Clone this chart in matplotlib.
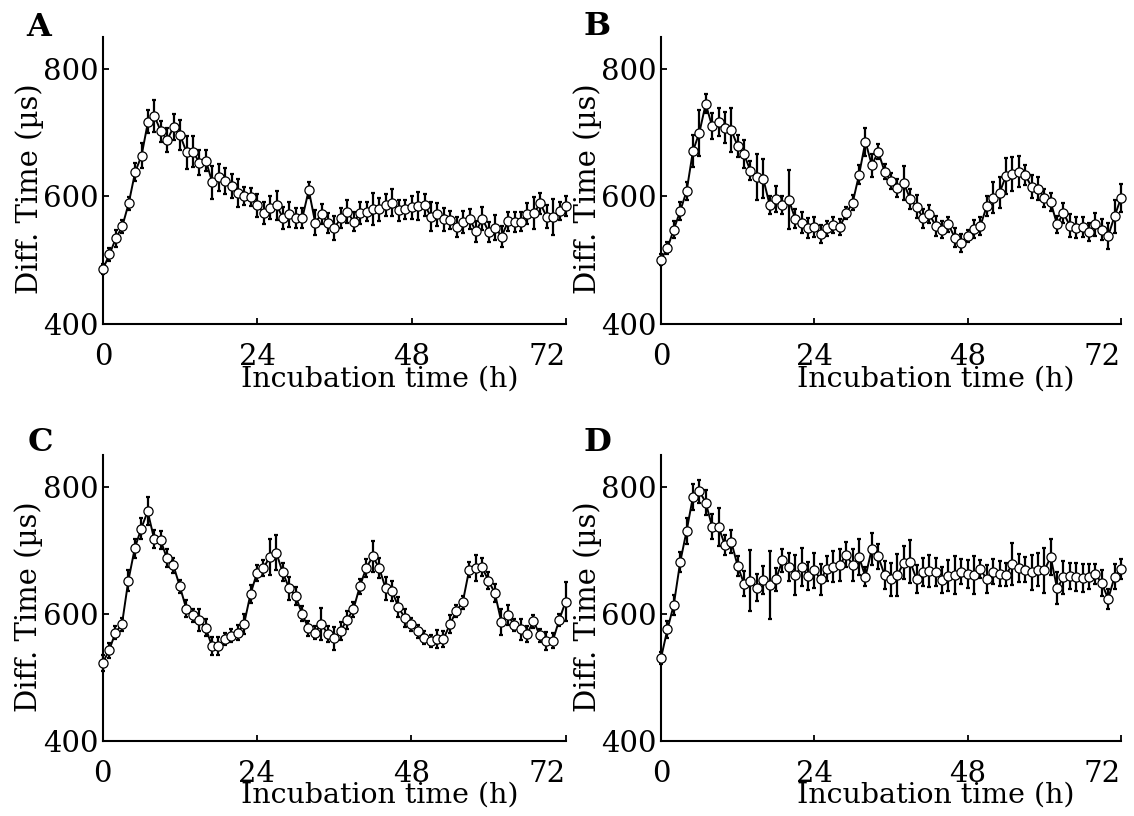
import numpy as np
import matplotlib
matplotlib.use("Agg")
import matplotlib.pyplot as plt

plt.rcParams["font.family"] = "DejaVu Serif"

hours = np.arange(73)

diff_a = [486, 509, 534, 553, 589, 638, 664, 717, 726, 702, 689, 709, 696, 669, 670, 653, 656, 622, 630, 624,
          616, 605, 600, 599, 586, 574, 582, 586, 566, 572, 566, 566, 610, 559, 572, 558,
          551, 566, 576, 560, 574, 576, 580, 580, 587, 590, 578, 580, 583,
          585, 587, 568, 572, 564, 563, 552, 560, 565, 545, 565, 544, 551, 537, 561, 560, 560,
          573, 574, 589, 568, 568, 577, 585]
err_a = [8, 10, 14, 10, 10, 14, 20, 18, 25, 17, 19, 20, 24, 26, 24, 19, 16, 26, 21, 21,
         19, 22, 14, 14, 18, 18, 18, 23, 17, 20, 16, 16, 13, 20, 16, 16, 19,
         16, 18, 15, 17, 15, 25, 18, 17, 21, 16, 15, 18, 22, 17, 23, 18, 18, 14, 16,
         17, 16, 17, 18, 16, 20, 17, 15, 16, 15, 17, 25, 16, 18, 28, 14, 16]

diff_b = [501, 519, 548, 577, 608, 671, 700, 745, 710, 716, 708, 704, 679, 666, 640, 630, 628, 587, 596, 586,
          595, 565, 559, 550, 552, 541, 550, 555, 552, 574, 590, 634, 686, 649,
          670, 639, 624, 613, 621, 596, 584, 566, 572, 554, 548, 556, 535, 527, 538, 549, 554, 585, 598, 606,
          632, 635, 639, 634, 615, 612, 598, 591, 556, 574, 554, 551, 552, 544, 556, 548, 538, 569, 597]
err_b = [8, 10, 14, 14, 14, 25, 36, 15, 20, 22, 25, 34, 18, 22, 15, 36, 30, 14, 20, 14,
         46, 15, 16, 16, 16, 14, 12, 12, 12, 10, 12, 15, 22, 18, 12, 12, 12, 14, 27, 16,
         18, 15, 14, 16, 14, 12, 15, 14, 10, 14, 14, 16, 24, 24, 28, 26, 24, 16, 18, 18,
         14, 14, 14, 16, 18, 16, 16, 14, 18, 16, 20, 26, 22]

diff_c = [522, 542, 570, 583, 652, 703, 734, 761, 718, 716, 687, 676, 643, 608, 597, 590, 578, 549, 549, 560,
          565, 570, 584, 631, 664, 672, 689, 696, 665, 640, 628, 600, 577, 570, 584, 568, 561,
          573, 590, 607, 643, 672, 690, 672, 640, 636, 610, 593, 583, 572, 562, 557, 560, 560, 583, 604,
          618, 669, 672, 673, 652, 632, 587, 598, 582, 575, 568, 588, 566, 557, 557, 590, 619]
err_c = [12, 12, 10, 10, 16, 15, 16, 22, 14, 14, 14, 12, 10, 14, 10, 18, 14, 14, 14, 10,
         10, 12, 16, 14, 12, 12, 28, 28, 14, 18, 14, 12, 12, 10, 25, 12, 18, 14, 14, 12,
         12, 14, 25, 16, 18, 16, 16, 14, 10, 10, 10, 10, 14, 12, 14, 10, 10, 12, 20, 14,
         14, 14, 20, 16, 10, 16, 12, 10, 10, 14, 12, 10, 30]

diff_d = [530, 575, 614, 681, 730, 784, 793, 775, 737, 737, 708, 713, 675, 647, 652, 641, 653, 645, 654, 684,
          674, 661, 674, 659, 668, 654, 671, 674, 677, 693, 676, 689, 658, 702, 690, 661, 654,
          661, 680, 682, 654, 665, 667, 666, 653, 660, 661, 666, 662, 661, 670, 654, 666, 663, 661, 678,
          672, 669, 665, 669, 668, 689, 640, 657, 659, 657, 656, 658, 662, 648, 623, 658, 670]
err_d = [10, 14, 16, 16, 20, 20, 18, 20, 20, 30, 16, 18, 16, 20, 48, 21, 22, 53, 18, 18,
         22, 32, 30, 22, 28, 24, 20, 25, 25, 20, 25, 28, 15, 25, 20, 22, 26, 33, 26, 34,
         22, 22, 25, 22, 20, 25, 30, 20, 22, 30, 14, 22, 20, 20, 18, 33, 22, 20, 28, 26,
         36, 28, 25, 26, 20, 22, 22, 20, 16, 20, 15, 20, 16]

panels = [("A", diff_a, err_a), ("B", diff_b, err_b), ("C", diff_c, err_c), ("D", diff_d, err_d)]

# axes rectangles [left, bottom, width, height] in figure fractions
rects = [[0.0908, 0.6030, 0.4083, 0.3517],
         [0.5829, 0.6030, 0.4056, 0.3517],
         [0.0905, 0.0925, 0.4083, 0.3500],
         [0.5829, 0.0925, 0.4056, 0.3500]]
letter_pos = [(0.0344, 0.9657), (0.5265, 0.9670), (0.0353, 0.4583), (0.5265, 0.4583)]

fig = plt.figure(figsize=(11.34, 8.16), dpi=100)

for (name, vals, errs), rect, lp in zip(panels, rects, letter_pos):
    ax = fig.add_axes(rect)
    ax.plot(hours, vals, "-", color="k", lw=1.4, zorder=1, clip_on=False)
    ax.errorbar(hours, vals, yerr=errs, fmt="none", ecolor="k", elinewidth=1.6,
                capsize=1.6, capthick=1.6, zorder=2, clip_on=False)
    ax.plot(hours, vals, "o", ms=6.6, mfc="w", mec="k", mew=0.9, zorder=3, clip_on=False)

    ax.set_xlim(0, 72)
    ax.set_ylim(400, 850)
    ax.set_xticks([0, 24, 48, 72])
    ax.set_yticks([400, 600, 800])
    ax.spines["top"].set_visible(False)
    ax.spines["right"].set_visible(False)
    for s in ("left", "bottom"):
        ax.spines[s].set_linewidth(1.5)
    ax.tick_params(axis="both", direction="in", length=4, width=1.3, labelsize=21)
    ax.tick_params(axis="x", pad=14)
    ax.tick_params(axis="y", pad=3)
    # keep the last hour label inside the axis end
    ax.get_xticklabels()[-1].set_horizontalalignment("right")

    ax.set_xlabel("Incubation time (h)", fontsize=20.5)
    ax.set_ylabel("Diff. Time (µs)", fontsize=21)
    ax.xaxis.set_label_coords(0.598, -0.145)
    ax.yaxis.set_label_coords(-0.128, 0.47)

    fig.text(lp[0], lp[1], name, fontsize=23, fontweight="bold", ha="center", va="center")

fig.savefig("out.png", dpi=100)
